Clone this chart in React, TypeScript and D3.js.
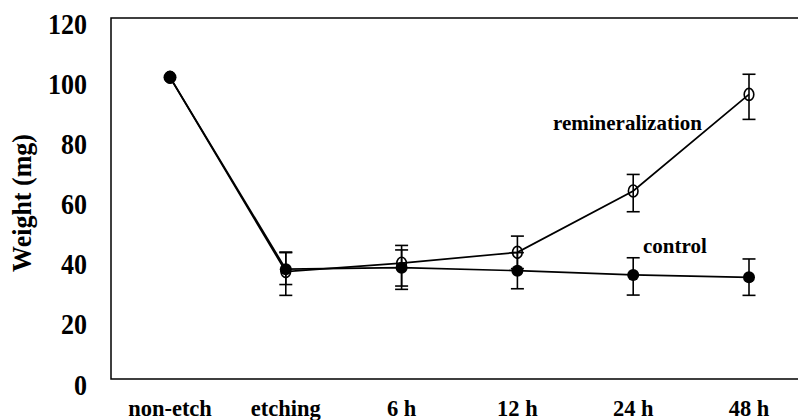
import React from "react";
import * as d3 from "d3";

const categories = ["non-etch", "etching", "6 h", "12 h", "24 h", "48 h"];
const controlValues = [100.3, 36.5, 37.0, 36.0, 34.6, 33.8];
const controlErrUp = [0, 5.5, 5.9, 6.0, 5.7, 6.1];
const controlErrDown = [0, 5.1, 6.1, 6.0, 6.7, 6.0];
const reminValues = [100.3, 35.7, 38.5, 42.1, 62.5, 94.6];
const reminErrUp = [0, 6.5, 5.9, 5.4, 5.5, 6.7];
const reminErrDown = [0, 7.9, 8.7, 5.4, 6.9, 8.3];
const yTicks = [0, 20, 40, 60, 80, 100, 120];

const W = 798;
const H = 420;
const FONT = '"Liberation Serif", "Times New Roman", Times, serif';

export default function App() {
  const x = d3.scalePoint<string>().domain(categories).range([170, 749]);
  const y = d3.scaleLinear().domain([0, 120]).range([379, 18]);
  const line = d3
    .line<number>()
    .x((_, i) => x(categories[i]) as number)
    .y((d) => y(d));

  const left = 111;
  const top = y(120);
  const bottom = y(0);
  const cap = 6.5;
  const ts = (size: number): React.CSSProperties => ({
    fontFamily: FONT,
    fontWeight: 700,
    fontSize: size,
  });

  const errBars = (vals: number[], up: number[], down: number[], key: string) =>
    vals.map((v, i) => {
      if (i === 0) return null;
      const cx = x(categories[i]) as number;
      const y1 = y(v + up[i]);
      const y2 = y(v - down[i]);
      return (
        <g key={key + i} stroke="#000" strokeWidth={1.6}>
          <line x1={cx} x2={cx} y1={y1} y2={y2} />
          <line x1={cx - cap} x2={cx + cap} y1={y1} y2={y1} />
          <line x1={cx - cap} x2={cx + cap} y1={y2} y2={y2} />
        </g>
      );
    });

  return (
    <svg
      width={W}
      height={H}
      style={{ position: "absolute", left: 0, top: 0, background: "#fff" }}
    >
      <rect x={0} y={0} width={W} height={H} fill="#fff" />
      <path
        d={`M${W + 2},${top}H${left}V${bottom}H${W + 2}`}
        fill="none"
        stroke="#000"
        strokeWidth={1.5}
      />
      {yTicks.map((t) => (
        <text
          key={t}
          transform={`translate(87,${y(t) + 15.5}) scale(1,1.15)`}
          textAnchor="end"
          style={ts(26)}
        >
          {t}
        </text>
      ))}
      <text
        transform={`translate(31,203) rotate(-90) scale(1,1.08)`}
        textAnchor="middle"
        style={ts(26)}
      >
        Weight (mg)
      </text>
      {categories.map((c) => (
        <text key={c} x={x(c) as number} y={416} textAnchor="middle" style={ts(22.5)}>
          {c}
        </text>
      ))}
      <path d={line(reminValues) || ""} fill="none" stroke="#000" strokeWidth={1.7} />
      <path d={line(controlValues) || ""} fill="none" stroke="#000" strokeWidth={1.7} />
      {errBars(controlValues, controlErrUp, controlErrDown, "c")}
      {errBars(reminValues, reminErrUp, reminErrDown, "r")}
      {reminValues.map((v, i) => (
        <ellipse
          key={"ro" + i}
          cx={x(categories[i]) as number}
          cy={y(v)}
          rx={4.8}
          ry={6}
          fill="none"
          stroke="#000"
          strokeWidth={1.6}
        />
      ))}
      {controlValues.map((v, i) => (
        <circle
          key={"cf" + i}
          cx={x(categories[i]) as number}
          cy={y(v)}
          r={i === 0 ? 6.5 : 6}
          fill="#000"
        />
      ))}
      <text x={553} y={130} style={ts(21)}>
        remineralization
      </text>
      <text x={643} y={253} style={ts(21)}>
        control
      </text>
    </svg>
  );
}
